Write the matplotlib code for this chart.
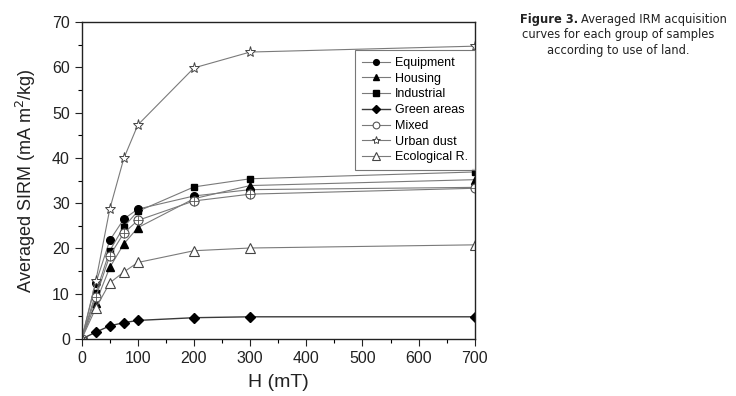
import matplotlib
matplotlib.use("Agg")
import matplotlib.pyplot as plt
from matplotlib.ticker import MultipleLocator

H = [0, 25, 50, 75, 100, 200, 300, 700]
equipment = [0, 12.3, 21.8, 26.5, 28.7, 31.6, 33.0, 33.5]
housing = [0, 8.0, 15.8, 21.0, 24.6, 31.0, 33.9, 35.2]
industrial = [0, 10.1, 19.5, 24.8, 28.2, 33.6, 35.4, 36.9]
green = [0, 1.5, 2.9, 3.6, 4.1, 4.7, 4.9, 4.9]
mixed = [0, 9.2, 18.4, 23.4, 26.2, 30.5, 32.0, 33.3]
urban = [0, 12.7, 28.7, 39.9, 47.3, 59.9, 63.4, 64.7]
ecological = [0, 6.8, 12.4, 14.8, 16.9, 19.5, 20.1, 20.8]

labels = ["Equipment", "Housing", "Industrial", "Green areas", "Mixed", "Urban dust", "Ecological R."]

plt.rcParams['font.family'] = ['Liberation Sans', 'DejaVu Sans']

fig = plt.figure(figsize=(7.36, 3.96), dpi=100)
ax = fig.add_axes([0.111, 0.144, 0.534, 0.800])

lc = '#7a7a7a'
lw = 0.8
ax.plot(H, equipment, color=lc, lw=lw, marker='o', ms=5.5, mfc='black', mec='black', label=labels[0])
ax.plot(H, housing, color=lc, lw=lw, marker='^', ms=6, mfc='black', mec='black', label=labels[1])
ax.plot(H, industrial, color=lc, lw=lw, marker='s', ms=5, mfc='black', mec='black', label=labels[2])
ax.plot(H, green, color='#3a3a3a', lw=1.0, marker='D', ms=5, mfc='black', mec='black', label=labels[3])
ax.plot(H, mixed, color=lc, lw=lw, marker='o', ms=6.5, mfc='white', mec='#555555', mew=0.8, label=labels[4])
ax.plot(H, mixed, ls='none', marker='+', ms=6.5, mec='#555555', mew=0.6)
ax.plot(H, urban, color=lc, lw=lw, marker='*', ms=8, mfc='white', mec='#444444', mew=0.7, label=labels[5])
ax.plot(H, ecological, color=lc, lw=lw, marker='^', ms=7.5, mfc='white', mec='#444444', mew=0.8, label=labels[6])

ax.set_xlim(0, 700)
ax.set_ylim(0, 70)
ax.xaxis.set_major_locator(MultipleLocator(100))
ax.xaxis.set_minor_locator(MultipleLocator(50))
ax.yaxis.set_major_locator(MultipleLocator(10))
ax.yaxis.set_minor_locator(MultipleLocator(5))
ax.tick_params(which='major', direction='out', length=5, width=0.8, labelsize=11.5, colors='#222222', top=False, right=False)
ax.tick_params(which='minor', direction='out', length=3, width=0.8, top=False, right=False)
for s in ax.spines.values():
    s.set_linewidth(1.0)
    s.set_color('#222222')

ax.set_xlabel("H (mT)", fontsize=14, color='#222222', labelpad=6)
ax.set_ylabel("Averaged SIRM (mA m$^2$/kg)", fontsize=13, color='#222222', labelpad=10)

handles, labs = ax.get_legend_handles_labels()
leg = ax.legend(handles, labs, loc='upper right', bbox_to_anchor=(1.0, 0.912), fontsize=9,
                frameon=True, fancybox=False, edgecolor='#555555', handlelength=2.2,
                handletextpad=0.4, labelspacing=0.3, borderpad=0.55, borderaxespad=0,
                markerscale=0.75)
leg.get_frame().set_linewidth(0.8)

cap_fs = 8.3
t1a = fig.text(0.706, 0.952, "Figure 3.", fontsize=cap_fs, ha='left', va='center', family='DejaVu Sans',
               weight='bold', color='#222222')
fig.canvas.draw()
bb = t1a.get_window_extent()
x_after = bb.x1 / fig.bbox.width
fig.text(x_after + 0.004, 0.952, "Averaged IRM acquisition", fontsize=cap_fs, ha='left', va='center',
         family='DejaVu Sans', color='#222222')
fig.text(0.84, 0.912, "curves for each group of samples", fontsize=cap_fs, ha='center', va='center',
         family='DejaVu Sans', color='#222222')
fig.text(0.84, 0.872, "according to use of land.", fontsize=cap_fs, ha='center', va='center',
         family='DejaVu Sans', color='#222222')

fig.savefig("out.png", dpi=100)
